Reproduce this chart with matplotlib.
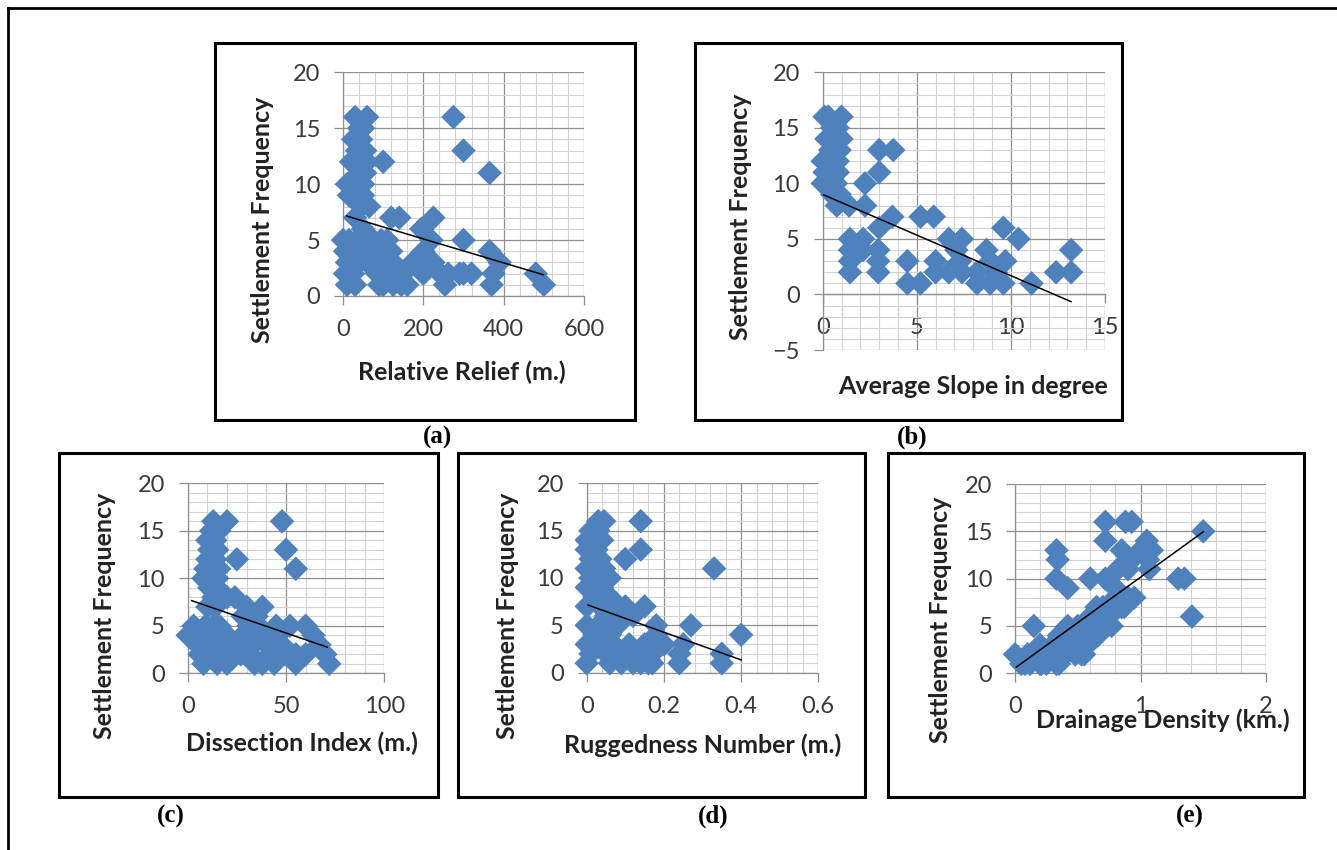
import matplotlib
matplotlib.use('Agg')
import matplotlib.pyplot as plt
from matplotlib.patches import Rectangle
from matplotlib.lines import Line2D
from matplotlib.ticker import MultipleLocator, FuncFormatter

plt.rcParams['font.family'] = ['Lato', 'DejaVu Sans']

W, H = 1337, 850
BLUE = '#4F81BD'

# (a) relative relief vs settlement frequency
relief = [30, 60, 40, 50, 25, 45, 35, 55, 30, 45, 40, 55, 10, 30, 50, 35, 50, 45, 65, 30,
          275, 300, 100, 365, 120, 140, 225, 195, 300, 365, 390, 375, 370, 480, 500,
          0, 15, 35, 55, 75, 95, 110,
          5, 25, 45, 65, 85, 100, 120,
          10, 20, 40, 60, 80, 105, 125,
          5, 25, 85, 100, 115, 135, 150,
          10, 30, 90, 100, 125, 145, 160, 50,
          173, 200, 225, 200, 220, 242, 254, 262, 300, 320, 290,
          20, 60, 15, 70]
relief_freq = [16, 16, 15, 15, 14, 14, 13, 13, 12, 12, 11, 11, 10, 10, 10, 9, 9, 8, 8, 7,
               16, 13, 12, 11, 7, 7, 7, 6, 5, 4, 3, 2, 1, 2, 1,
               5, 5, 5, 5, 5, 5, 5,
               4, 4, 4, 4, 4, 4, 4,
               3, 3, 3, 3, 3, 3, 3,
               2, 2, 2, 2, 2, 2, 2,
               1, 1, 1, 1, 1, 1, 1, 6,
               3, 2, 3, 4, 5, 2, 1, 2, 2, 2, 2,
               12, 12, 9, 4]
relief_trend = ([9, 499], [7.15, 1.9])

# (b) average slope vs settlement frequency
slope = [0.1, 0.3, 1.0, 0.5, 0.8, 0.2, 0.7, 1.0, 0.4, 0.9, 0.0, 0.3, 0.8, 0.1, 0.5, 0.8,
         0.0, 0.4, 0.7, 0.5, 0.9, 0.75, 1.4, 2.25,
         3.0, 3.75, 3.0, 2.25, 3.7, 5.2, 5.9, 3.0, 6.7, 7.4, 9.6, 10.4,
         1.45, 2.15, 1.45, 2.15, 2.95, 1.45, 2.95, 1.45, 2.95,
         4.5, 4.5, 5.2, 6.0, 6.0, 6.7, 7.1, 7.3, 7.4, 8.2, 8.2, 8.9, 8.7, 8.9, 9.7, 9.6,
         9.2, 11.1, 12.4, 13.2, 13.2]
slope_freq = [16, 16, 16, 15, 15, 14, 14, 14, 13, 13, 12, 12, 12, 11, 11, 11,
              10, 10, 10, 9, 9, 8, 8, 8,
              13, 13, 11, 10, 7, 7, 7, 6, 5, 5, 6, 5,
              5, 5, 4, 4, 4, 3, 3, 2, 2,
              3, 1, 1, 3, 2, 2, 4, 3, 2, 2, 1, 1, 4, 3, 3, 1,
              2, 1, 2, 2, 4]
slope_trend = ([0, 13.2], [9.0, -0.65])

# (c) dissection index vs settlement frequency
dissection = [13, 20, 12, 16, 10, 14, 11, 15, 10, 14, 9, 13, 16, 8, 12, 15, 11, 15, 13, 17, 10, 14,
              48, 50, 55, 25, 20, 24, 30, 38, 28, 35, 45, 52, 60, 64, 70, 72,
              0, 3, 5, 6, 8, 4, 9, 10, 12, 14, 15, 16, 18, 20, 22, 20, 7, 11, 13, 17, 23, 19,
              28, 30, 32, 34, 36, 38, 40, 42, 44, 46, 48, 33, 27, 38, 45, 50, 31,
              55, 60, 55, 67]
dissection_freq = [16, 16, 15, 15, 14, 14, 13, 13, 12, 12, 11, 11, 11, 10, 10, 10, 9, 9, 8, 8, 7, 7,
                   16, 13, 11, 12, 8, 8, 7, 7, 6, 6, 5, 5, 5, 4, 2, 1,
                   4, 5, 3, 2, 1, 4, 5, 3, 4, 2, 1, 5, 3, 4, 2, 1, 4, 2, 5, 4, 3, 2,
                   4, 3, 2, 1, 5, 4, 3, 2, 1, 4, 3, 3, 2, 1, 2, 2, 5,
                   2, 2, 1, 3]
dissection_trend = ([2, 71], [7.65, 2.75])

# (d) ruggedness number vs settlement frequency
rugged = [0.03, 0.045, 0.01, 0.03, 0.0, 0.02, 0.04, 0.0, 0.025, 0.01, 0.035, 0.0, 0.02, 0.045,
          0.01, 0.03, 0.06, 0.0, 0.04, 0.02, 0.06, 0.0, 0.035, 0.05,
          0.14, 0.14, 0.10, 0.33, 0.08, 0.10, 0.15, 0.27, 0.40, 0.35, 0.35, 0.25, 0.24, 0.24,
          0.18, 0.12, 0.10,
          0.0, 0.02, 0.0, 0.01, 0.0, 0.03, 0.04, 0.05, 0.06, 0.08, 0.07, 0.09, 0.10, 0.11,
          0.13, 0.12, 0.15, 0.16, 0.17, 0.18, 0.19, 0.20, 0.17, 0.14, 0.08, 0.06]
rugged_freq = [16, 16, 15, 15, 14, 14, 14, 13, 13, 12, 12, 11, 11, 11,
               10, 10, 10, 9, 9, 8, 8, 7, 7, 6,
               16, 13, 12, 11, 7, 7, 7, 5, 4, 2, 1, 3, 2, 1,
               5, 6, 6,
               5, 4, 3, 2, 1, 5, 3, 2, 4, 5, 3, 1, 2, 3,
               2, 1, 3, 1, 2, 4, 3, 3, 1, 1, 2, 1]
rugged_trend = ([0.003, 0.40], [7.15, 1.35])

# (e) drainage density vs settlement frequency
drainage = [0.72, 0.88, 0.93, 0.72, 1.5, 0.33, 0.34, 0.33, 0.42, 0.6, 0.72, 0.8, 1.3, 1.35, 1.41,
            0.15, 0.77, 0.75,
            0.85, 0.93, 1.05, 1.09, 1.06, 1.07, 0.9, 0.82, 1.0, 0.95, 0.87, 0.9, 0.85, 0.8,
            0.0, 0.05, 0.1, 0.12, 0.15, 0.2, 0.2, 0.25, 0.25, 0.3, 0.3, 0.35, 0.35, 0.38, 0.4,
            0.42, 0.45, 0.45, 0.48, 0.5, 0.5, 0.55, 0.55, 0.6, 0.6, 0.62, 0.65, 0.68, 0.7,
            0.75, 0.53, 0.33, 0.08, 0.21, 0.58, 0.66]
drainage_freq = [16, 16, 16, 14, 15, 13, 12, 10, 9, 10, 10, 9, 10, 10, 6,
                 5, 5, 6,
                 13, 12, 14, 13, 12, 11, 11, 11, 13, 8, 7, 8, 7, 8,
                 2, 1, 2, 1, 2, 1, 3, 2, 1, 3, 2, 1, 4, 3, 2,
                 5, 4, 3, 2, 5, 3, 4, 2, 6, 4, 5, 7, 6, 7,
                 7, 2, 1, 1, 1, 3, 4]
drainage_trend = ([0.01, 1.5], [0.65, 14.95])


def px_rect(left, top, right, bottom):
    return [left / W, 1 - bottom / H, (right - left) / W, (bottom - top) / H]


def fmt(v, pos):
    return '%g' % v


def panel(fig, area, frame, xs, ys, trend, xlim, xmajor, xminor, ylim,
          xlabel, xlabel_at, ylabel_at, tag, tag_at, axis_at_zero=False):
    fig.add_artist(Rectangle((frame[0] / W, 1 - frame[3] / H),
                             (frame[2] - frame[0]) / W, (frame[3] - frame[1]) / H,
                             transform=fig.transFigure, fill=False, ec='black', lw=2.2))
    ax = fig.add_axes(px_rect(*area))
    ax.set_xlim(*xlim)
    ax.set_ylim(*ylim)
    ax.xaxis.set_major_locator(MultipleLocator(xmajor))
    ax.xaxis.set_minor_locator(MultipleLocator(xminor))
    ax.yaxis.set_major_locator(MultipleLocator(5))
    ax.yaxis.set_minor_locator(MultipleLocator(1))
    ax.xaxis.set_major_formatter(FuncFormatter(fmt))
    ax.grid(which='major', color='#8f8f8f', lw=0.9)
    ax.grid(which='minor', color='#d3d3d3', lw=0.8)
    ax.set_axisbelow(True)
    for s in ['top', 'right']:
        ax.spines[s].set_visible(False)
    for s in ['left', 'bottom']:
        ax.spines[s].set_color('#8f8f8f')
        ax.spines[s].set_linewidth(0.9)
    if axis_at_zero:
        ax.spines['bottom'].set_position(('data', 0))
    ax.tick_params(which='major', direction='out', length=6.5, width=0.9, color='#8f8f8f',
                   labelsize=17, pad=10, labelcolor='#3a3a3a')
    ax.tick_params(which='minor', length=0)
    ax.scatter(xs, ys, marker='D', s=12.5 ** 2, c=BLUE, edgecolors='none', zorder=3, clip_on=False)
    ax.plot(trend[0], trend[1], color='black', lw=1.1, zorder=4)

    fig.text(xlabel_at[0] / W, 1 - xlabel_at[1] / H, xlabel, ha='center', va='center',
             fontsize=18, fontweight='bold', color='#222222')
    fig.text(ylabel_at[0] / W, 1 - ylabel_at[1] / H, 'Settlement Frequency', ha='center',
             va='center', rotation=90, fontsize=18, fontweight='bold', color='#222222')
    fig.text(tag_at[0] / W, 1 - tag_at[1] / H, tag, ha='center', va='center', fontsize=18,
             fontweight='bold', family='Liberation Serif')
    return ax


fig = plt.figure(figsize=(W / 100, H / 100), dpi=100)

# outer frame
fig.add_artist(Line2D([8 / W, 1], [1 - 8 / H, 1 - 8 / H], transform=fig.transFigure, color='black', lw=2))
fig.add_artist(Line2D([8 / W, 8 / W], [1 - 8 / H, 0], transform=fig.transFigure, color='black', lw=2))

panel(fig, (343, 72.3, 584, 296), (214.7, 42.7, 635, 420), relief, relief_freq, relief_trend,
      (0, 600), 200, 40, (0, 20), 'Relative Relief (m.)', (462, 372), (263, 220), '(a)', (437, 437))
panel(fig, (822.7, 72.3, 1105, 350), (694.7, 42.7, 1122, 420), slope, slope_freq, slope_trend,
      (0, 15), 5, 1, (-5, 20), 'Average Slope in degree', (973, 387), (740, 217), '(b)', (912, 437),
      axis_at_zero=True)
panel(fig, (187.7, 483.3, 384.3, 673.3), (59, 452.7, 437.7, 796.7), dissection, dissection_freq,
      dissection_trend, (0, 100), 50, 10, (0, 20), 'Dissection Index (m.)', (302, 743), (105, 616),
      '(c)', (171, 816))
panel(fig, (586.7, 483.3, 818.3, 672.7), (457.7, 452.7, 865, 796.7), rugged, rugged_freq,
      rugged_trend, (0, 0.6), 0.2, 0.04, (0, 20), 'Ruggedness Number (m.)', (703, 745), (508, 616),
      '(d)', (713, 816))
panel(fig, (1015, 484, 1266, 673.3), (887.7, 452.7, 1304, 796.7), drainage, drainage_freq,
      drainage_trend, (0, 2), 1, 0.2, (0, 20), 'Drainage Density (km.)', (1163, 720), (940, 620),
      '(e)', (1190, 816))

fig.text(628 / W, 1 - 428 / H, '`', ha='center', va='center', fontsize=14, family='Liberation Serif')

fig.savefig('out.png', dpi=100)
